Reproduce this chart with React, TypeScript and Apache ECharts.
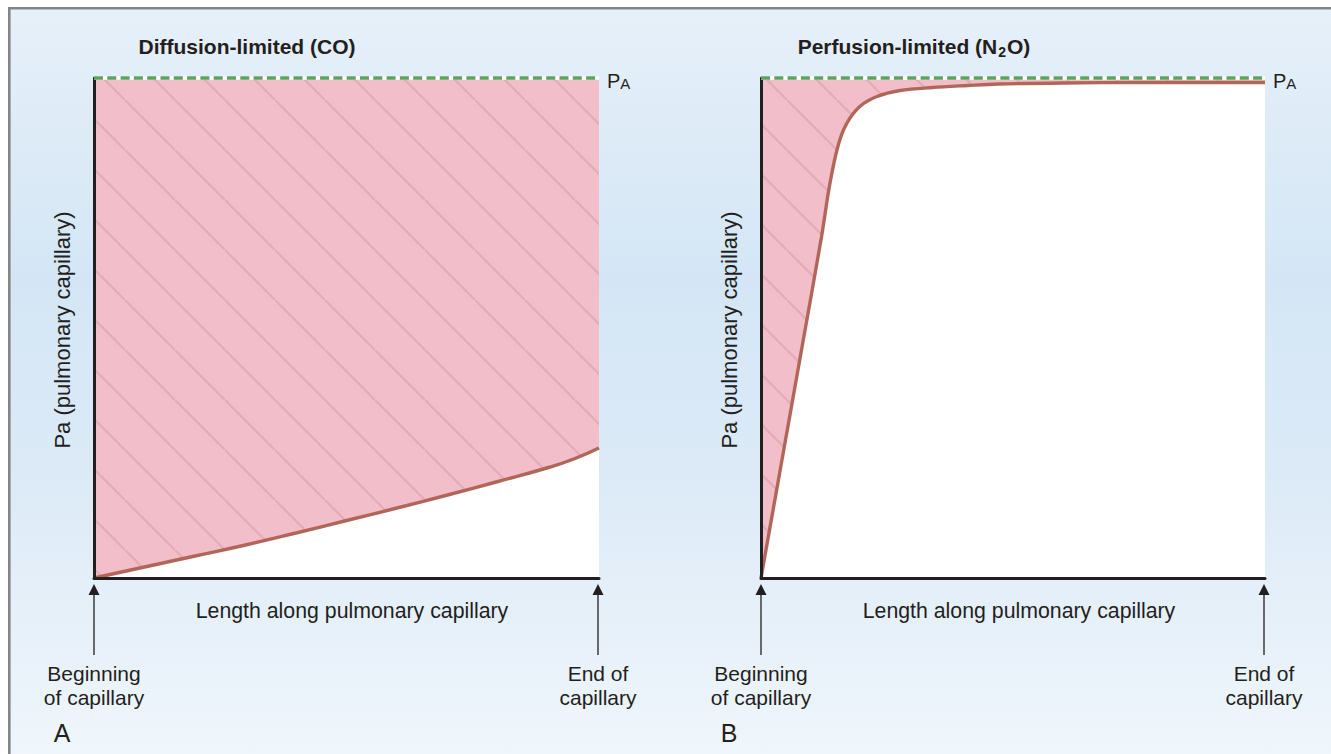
import React, { useEffect, useRef } from "react";
import * as echarts from "echarts";

// ---------- data ----------
const lengthRange = [0, 100]; // length along capillary (beginning -> end)
const pressureRange = [0, 100]; // partial pressure, PA = 100
const alveolarPressure = 100;

const diffusionX = [0, 10, 20, 30, 40, 50, 60, 70, 80, 90, 95, 100];
const diffusionY = [0, 2.2, 4.4, 6.6, 9.0, 11.5, 14.0, 16.6, 19.3, 22.1, 23.8, 26.0];

const perfusionX = [0, 4, 8, 12, 13.6, 15.3, 17, 19.6, 23, 27.6, 34, 41, 47, 60, 75, 90, 100];
const perfusionY = [0, 22.7, 45.4, 68.2, 78.5, 86.5, 90.9, 94.3, 96.3, 97.5, 98.1, 98.5, 98.8, 99.0, 99.1, 99.1, 99.1];

const panelTitles = ["Diffusion-limited (CO)", "Perfusion-limited (N{sub|2}O)"];
const panelLetters = ["A", "B"];
const yAxisTitle = "Pa (pulmonary capillary)";
const xAxisTitle = "Length along pulmonary capillary";
const startLabel = ["Beginning", "of capillary"];
const endLabel = ["End of", "capillary"];

// ---------- layout / style ----------
const GRID_TOP = 78;
const GRID_H = 500;
const PANELS = [
  { left: 94, width: 505, hatchPhase: 25 },
  { left: 761, width: 504, hatchPhase: 37 },
];
const TEXT = "#231f20";
const FONT = '"Liberation Sans", Arial, Helvetica, sans-serif';
const CURVE = "#b0675a";
const GREEN = "#5da25e";

function hatch(phase: number) {
  const s = 50;
  const cv = document.createElement("canvas");
  cv.width = s;
  cv.height = s;
  const ctx = cv.getContext("2d")!;
  ctx.fillStyle = "#f1bec9";
  ctx.fillRect(0, 0, s, s);
  ctx.strokeStyle = "#e3abb6";
  ctx.lineWidth = 2;
  for (const off of [phase - 2 * s, phase - s, phase, phase + s]) {
    ctx.beginPath();
    ctx.moveTo(off, 0);
    ctx.lineTo(off + s, s);
    ctx.stroke();
  }
  return { image: cv.toDataURL(), repeat: "repeat", imageWidth: s, imageHeight: s };
}

function pairs(xs: number[], ys: number[]) {
  return xs.map((x, i) => [x, ys[i]]);
}

export default function App() {
  const ref = useRef<HTMLDivElement>(null);
  useEffect(() => {
    if (!ref.current) return;
    const chart = echarts.init(ref.current, undefined, { renderer: "svg" });
    const curves = [pairs(diffusionX, diffusionY), pairs(perfusionX, perfusionY)];
    const smoothing = [0.5, 0.3];
    const paLine = [
      [lengthRange[0], alveolarPressure],
      [lengthRange[1], alveolarPressure],
    ];

    const grids = PANELS.map((p) => ({
      left: p.left,
      top: GRID_TOP,
      width: p.width,
      height: GRID_H,
      show: true,
      backgroundColor: "#ffffff",
      borderWidth: 0,
    }));
    const axisBase = {
      type: "value",
      axisLine: { show: true, onZero: false, lineStyle: { color: TEXT, width: 3 } },
      axisTick: { show: false },
      axisLabel: { show: false },
      splitLine: { show: false },
      z: 6,
    };
    const xAxes = PANELS.map((_, i) => ({ ...axisBase, gridIndex: i, min: lengthRange[0], max: lengthRange[1] }));
    const yAxes = PANELS.map((_, i) => ({ ...axisBase, gridIndex: i, min: pressureRange[0], max: pressureRange[1] }));

    const series: any[] = [];
    PANELS.forEach((p, i) => {
      series.push({
        type: "line",
        xAxisIndex: i,
        yAxisIndex: i,
        data: curves[i],
        symbol: "none",
        smooth: smoothing[i],
        lineStyle: { color: CURVE, width: 3.4 },
        areaStyle: { origin: "end", color: hatch(p.hatchPhase), opacity: 1 },
        z: 3,
      });
      series.push({
        type: "line",
        xAxisIndex: i,
        yAxisIndex: i,
        data: paLine,
        symbol: "none",
        clip: false,
        lineStyle: { color: "#ffffff", width: 3.5 },
        z: 7,
      });
      series.push({
        type: "line",
        xAxisIndex: i,
        yAxisIndex: i,
        data: paLine,
        symbol: "none",
        clip: false,
        lineStyle: { color: GREEN, width: 3.5, type: [9, 4.3] },
        z: 8,
      });
    });

    const txt = (x: number, y: number, text: string, extra: any = {}, el: any = {}) => ({
      type: "text",
      x,
      y,
      z: 10,
      ...el,
      style: {
        text,
        fill: TEXT,
        font: `21px ${FONT}`,
        textAlign: "center",
        align: "center",
        textVerticalAlign: "middle",
        verticalAlign: "middle",
        ...extra,
      },
    });

    const arrow = (x: number) => [
      {
        type: "line",
        z: 10,
        shape: { x1: x, y1: 655, x2: x, y2: 594 },
        style: { stroke: TEXT, lineWidth: 1.3 },
      },
      {
        type: "polygon",
        z: 10,
        shape: { points: [[x, 584], [x - 5.5, 595], [x + 5.5, 595]] },
        style: { fill: TEXT },
      },
    ];

    const graphics: any[] = [
      {
        type: "rect",
        z: -10,
        shape: { x: 9.3, y: 8.2, width: 1340, height: 770 },
        style: {
          fill: {
            type: "linear",
            x: 0,
            y: 0,
            x2: 0,
            y2: 1,
            colorStops: [
              { offset: 0, color: "#e6f0f9" },
              { offset: 0.35, color: "#d4e6f5" },
              { offset: 0.6, color: "#dceaf7" },
              { offset: 1, color: "#f1f7fc" },
            ],
          },
          stroke: "#858585",
          lineWidth: 2.6,
        },
      },
    ];

    PANELS.forEach((p, i) => {
      const right = p.left + p.width;
      graphics.push(
        txt(p.left + 153, 46, panelTitles[i], {
          font: `bold 21px ${FONT}`,
          lineHeight: 26,
          rich: {
            sub: { font: `bold 14px ${FONT}`, fill: TEXT, verticalAlign: "bottom", lineHeight: 14, padding: [0, 1, 0, 1] },
          },
        })
      );
      graphics.push(
        txt(right + 8, 81, "{p|P}{a|A}", {
          textAlign: "left",
          align: "left",
          rich: {
            p: { font: `20px ${FONT}`, fill: TEXT, verticalAlign: "bottom", lineHeight: 20 },
            a: { font: `15px ${FONT}`, fill: TEXT, verticalAlign: "bottom", lineHeight: 17 },
          },
        })
      );
      graphics.push(txt(p.left - 32, 330, yAxisTitle, { font: `22px ${FONT}` }, { rotation: Math.PI / 2 }));
      graphics.push(txt(p.left + 258, 611, xAxisTitle, { font: `21.3px ${FONT}` }));
      graphics.push(...arrow(p.left), ...arrow(right - 1));
      graphics.push(txt(p.left, 673, startLabel[0]));
      graphics.push(txt(p.left, 697, startLabel[1]));
      graphics.push(txt(right - 1, 673, endLabel[0]));
      graphics.push(txt(right - 1, 697, endLabel[1]));
      graphics.push(txt(p.left - 32, 733, panelLetters[i], { font: `25px ${FONT}` }));
    });

    chart.setOption({
      animation: false,
      backgroundColor: "#ffffff",
      grid: grids,
      xAxis: xAxes,
      yAxis: yAxes,
      series,
      graphic: { elements: graphics },
    });
    return () => chart.dispose();
  }, []);
  return <div ref={ref} style={{ position: "absolute", left: 0, top: 0, width: 1331, height: 754 }} />;
}
